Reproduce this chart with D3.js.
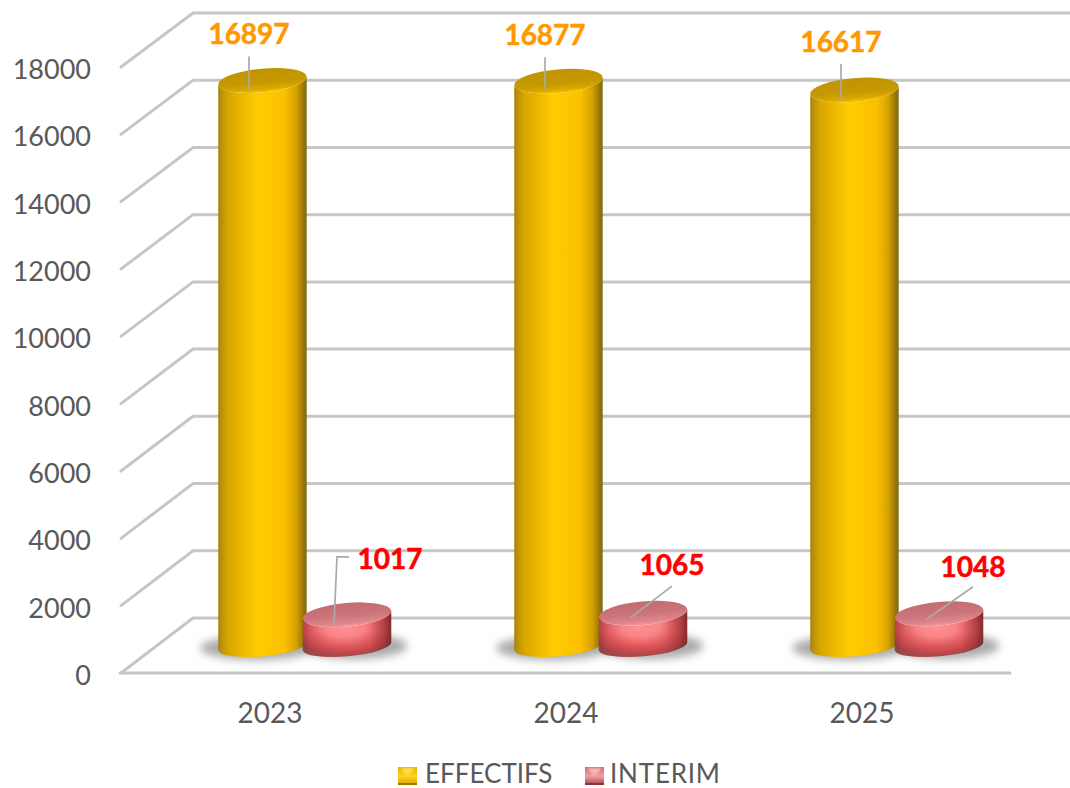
<!DOCTYPE html>
<html><head><meta charset="utf-8">
<script src="https://cdn.jsdelivr.net/npm/d3@7/dist/d3.min.js"></script>
<style>html,body{margin:0;padding:0;background:#fff}svg{display:block}</style></head>
<body><div id="c"></div>
<script>
const categories = ["2023","2024","2025"];
const seriesNames = ["EFFECTIFS","INTERIM"];
const effectifs = [16897,16877,16617];
const interim = [1017,1065,1048];
const yTicks = [0,2000,4000,6000,8000,10000,12000,14000,16000,18000];

const W=1070,H=788,FONT="Lato, Carlito, sans-serif";
const svg=d3.select("#c").append("svg").attr("width",W).attr("height",H);
const defs=svg.append("defs");

const x=d3.scaleBand().domain(categories).range([122,1010]);
const sub=d3.scalePoint().domain(seriesNames).range([-7.5,77]);
const yFront=d3.scaleLinear().domain([0,18000]).range([673,67]);
const yBack=d3.scaleLinear().domain([0,18000]).range([618,13]);
const yCyl=d3.scaleLinear().domain([0,18000]).range([649,43.4]);

function lin(id,stops,horizontal=true){
  const g=defs.append("linearGradient").attr("id",id).attr("x1",0).attr("y1",0).attr("x2",horizontal?1:0).attr("y2",horizontal?0:1);
  stops.forEach(s=>g.append("stop").attr("offset",s[0]).attr("stop-color",s[1]));
}
lin("ySide",[[0,"#a07f06"],[.03,"#b8900a"],[.12,"#dba700"],[.45,"#ffcc00"],[.75,"#fbc000"],[.88,"#d6a200"],[.97,"#927308"],[1,"#7f6a1c"]]);
lin("yTop",[[0,"#c09400"],[.6,"#c69900"],[.85,"#d9a800"],[1,"#f2c400"]],false);
lin("pTopG",[[0,"#c26c72"],[.55,"#cc767c"],[.85,"#e0868b"],[1,"#f09a9c"]],false);
const rp=defs.append("radialGradient").attr("id","pSide").attr("cx",.47).attr("cy",.36).attr("r",.62);
[[0,"#ff9093"],[.35,"#f98487"],[.65,"#e0585c"],[.88,"#c2474b"],[1,"#a34a4c"]].forEach(s=>rp.append("stop").attr("offset",s[0]).attr("stop-color",s[1]));
const pe=defs.append("linearGradient").attr("id","pShade");
[[0,.18],[.1,.03],[.25,0],[.75,0],[.92,.2],[1,.42]].forEach(s=>pe.append("stop").attr("offset",s[0]).attr("stop-color","#300").attr("stop-opacity",s[1]));
defs.append("filter").attr("id","blur").attr("x","-40%").attr("y","-80%").attr("width","180%").attr("height","260%")
  .append("feGaussianBlur").attr("stdDeviation",4.5);
defs.append("filter").attr("id","soft").append("feGaussianBlur").attr("stdDeviation",.4);
defs.append("filter").attr("id","keysoft").append("feGaussianBlur").attr("stdDeviation",.8);

// walls
const grid=svg.append("g").attr("fill","none").attr("stroke-linecap","round").attr("filter","url(#soft)");
yTicks.forEach(t=>{
  const p=d3.path();
  p.moveTo(x.range()[0]-1,yFront(t)); p.lineTo(193,yBack(t)); p.lineTo(W,yBack(t));
  grid.append("path").attr("d",p.toString()).attr("stroke","#c6c6c6").attr("stroke-width",3);
});
grid.append("line").attr("x1",120).attr("x2",x.range()[1]).attr("y1",yFront(0)).attr("y2",yFront(0)).attr("stroke","#c6c6c6").attr("stroke-width",3);

// axis labels through d3 axes
const ax=svg.append("g").attr("transform","translate(91,3)")
  .call(d3.axisLeft(yFront).tickValues(yTicks).tickFormat(d3.format("d")).tickSize(0).tickPadding(0));
const ax2=svg.append("g").attr("transform","translate(0,700)")
  .call(d3.axisBottom(x).tickSize(0).tickPadding(0));
ax.select(".domain").remove();ax2.select(".domain").remove();
ax.selectAll("text").attr("fill","#595959").attr("font-family",FONT).attr("font-size",27);
ax2.selectAll("text").attr("fill","#595959").attr("font-family",FONT).attr("font-size",28).attr("dy",0).attr("y",23);

const RX=44.4,TILT=-5.2,sin=Math.sin(TILT*Math.PI/180),cos=Math.cos(TILT*Math.PI/180);
const BASE_LIFT=3;
function drawCyl(cx,val,kind){
  const top=yCyl(val),base=yCyl(0)-BASE_LIFT,ryT=11.8,ryB=10.3;
  const dx=RX*cos,dy=RX*sin;
  const g=svg.append("g");
  const d=`M${cx-dx},${top-dy} L${cx-dx},${base-dy} A${RX},${ryB} ${TILT} 0 0 ${cx+dx},${base+dy} L${cx+dx},${top+dy} A${RX},${ryT} ${TILT} 0 1 ${cx-dx},${top-dy} Z`;
  const e=()=>g.append("ellipse").attr("cx",cx).attr("cy",top).attr("rx",RX).attr("ry",ryT).attr("transform",`rotate(${TILT} ${cx} ${top})`);
  if(kind==="y"){
    g.append("path").attr("d",d).attr("fill","url(#ySide)");
    e().attr("fill","url(#yTop)");
  } else {
    g.append("path").attr("d",d).attr("fill","url(#pSide)");
    g.append("path").attr("d",d).attr("fill","url(#pShade)");
    e().attr("fill","url(#pTopG)");
  }
}
// shadows
const shadow=svg.append("g").attr("filter","url(#blur)");
categories.forEach(c=>{
  const cc=x(c)+x.bandwidth()/2;
  shadow.append("ellipse").attr("cx",cc+sub("EFFECTIFS")-6).attr("cy",yCyl(0)-1).attr("rx",RX+12).attr("ry",12).attr("fill","#787878").attr("opacity",.62);
  shadow.append("ellipse").attr("cx",cc+sub("INTERIM")+7).attr("cy",yCyl(0)-3).attr("rx",RX+9).attr("ry",13).attr("fill","#787878").attr("opacity",.62);
});
categories.forEach((c,i)=>{
  const cc=x(c)+x.bandwidth()/2;
  drawCyl(cc+sub("EFFECTIFS"),effectifs[i],"y");
  drawCyl(cc+sub("INTERIM"),interim[i],"p");
});

// leaders and labels: offsets from each cylinder's top centre
const leaderY=[[[-13.5,9],[-13.5,-24]],[[-13.5,9],[-13.5,-24]],[[-13.5,9],[-13.5,-26]]];
const labelY=[[-13.5,-36.5],[-13.5,-36.5],[-13.5,-37.5]];
const leaderP=[[[-13,9],[-10,-58],[2,-58]],[[-13,5],[29,-27]],[[-13,6],[34,-27]]];
const labelP=[[43,-46],[29,-38],[34,-37]];
const leaders=svg.append("g").attr("fill","none").attr("stroke","#a9a9a9").attr("stroke-width",1.7);
const labels=svg.append("g").attr("font-family",FONT).attr("font-weight",700).attr("font-size",28).attr("text-anchor","middle").attr("stroke-width",.5);
categories.forEach((c,i)=>{
  const cc=x(c)+x.bandwidth()/2;
  const yx=cc+sub("EFFECTIFS"),yy=yCyl(effectifs[i]);
  const px=cc+sub("INTERIM"),py=yCyl(interim[i]);
  const ln=d3.line();
  leaders.append("path").attr("d",ln(leaderY[i].map(o=>[yx+o[0],yy+o[1]])));
  leaders.append("path").attr("d",ln(leaderP[i].map(o=>[px+o[0],py+o[1]])));
  labels.append("text").attr("x",yx+labelY[i][0]).attr("y",yy+labelY[i][1]).attr("fill","#ff9900").attr("stroke","#ff9900").text(effectifs[i]);
  labels.append("text").attr("x",px+labelP[i][0]).attr("y",py+labelP[i][1]).attr("fill","#ff0000").attr("stroke","#ff0000").text(interim[i]);
});

// legend
lin("kY",[[0,"#e2ae00"],[.5,"#ffd21e"],[1,"#d9a400"]],false);
lin("kP",[[0,"#c9686c"],[.5,"#f0a0a2"],[1,"#a94448"]],false);
const legendItems=[
 {n:seriesNames[0],kx:398,tx:425,ls:0,f:"url(#kY)",edge:"#9a7a00",peak:"#ffe04a"},
 {n:seriesNames[1],kx:585,tx:610,ls:.8,f:"url(#kP)",edge:"#8f3236",peak:"#f7b4b6"}];
const KS=19,KY=767;
legendItems.forEach(l=>{
  const g=svg.append("g"),k=l.kx;
  g.append("rect").attr("x",k).attr("y",KY).attr("width",KS).attr("height",KS-1).attr("fill",l.f);
  g.append("path").attr("d",`M${k+2},${KY+1}H${k+KS-2}L${k+KS/2},${KY+KS*.5}Z`).attr("fill",l.peak).attr("filter","url(#keysoft)");
  g.append("rect").attr("x",k).attr("y",KY+KS-3).attr("width",KS).attr("height",2).attr("fill",l.edge);
  g.append("text").attr("x",l.tx).attr("y",782.5).attr("font-family",FONT).attr("font-size",26).attr("letter-spacing",l.ls).attr("fill","#595959").text(l.n);
});
</script></body></html>
